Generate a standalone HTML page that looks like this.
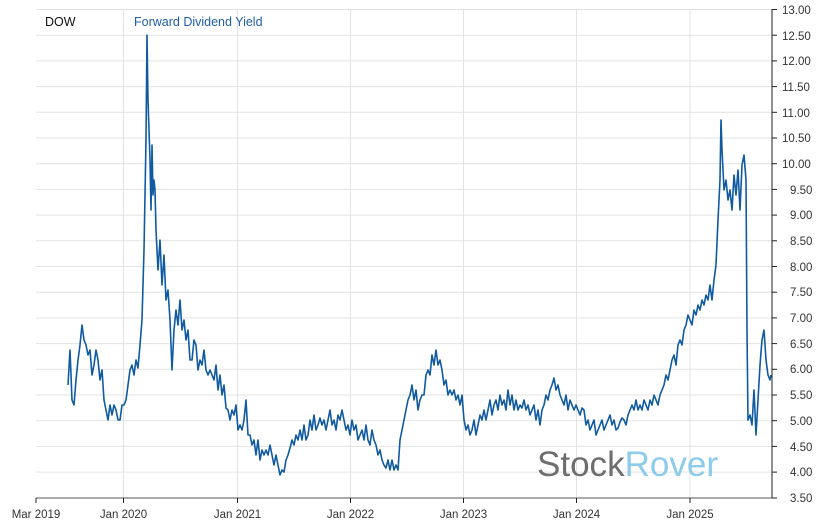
<!DOCTYPE html>
<html><head><meta charset="utf-8"><style>
html,body{margin:0;padding:0;background:#fff;}
svg{display:block;font-family:"Liberation Sans",Arial,sans-serif;}
</style></head><body>
<svg width="833" height="530" viewBox="0 0 833 530" xmlns="http://www.w3.org/2000/svg">
<g stroke="#e3e3e3" stroke-width="1">
<line x1="36" x2="772" y1="9.5" y2="9.5"/><line x1="36" x2="772" y1="35.2" y2="35.2"/><line x1="36" x2="772" y1="60.9" y2="60.9"/><line x1="36" x2="772" y1="86.6" y2="86.6"/><line x1="36" x2="772" y1="112.3" y2="112.3"/><line x1="36" x2="772" y1="138" y2="138"/><line x1="36" x2="772" y1="163.7" y2="163.7"/><line x1="36" x2="772" y1="189.4" y2="189.4"/><line x1="36" x2="772" y1="215.1" y2="215.1"/><line x1="36" x2="772" y1="240.8" y2="240.8"/><line x1="36" x2="772" y1="266.5" y2="266.5"/><line x1="36" x2="772" y1="292.2" y2="292.2"/><line x1="36" x2="772" y1="317.9" y2="317.9"/><line x1="36" x2="772" y1="343.6" y2="343.6"/><line x1="36" x2="772" y1="369.3" y2="369.3"/><line x1="36" x2="772" y1="395" y2="395"/><line x1="36" x2="772" y1="420.7" y2="420.7"/><line x1="36" x2="772" y1="446.4" y2="446.4"/><line x1="36" x2="772" y1="472.1" y2="472.1"/>
<line x1="123.5" x2="123.5" y1="9" y2="498"/><line x1="237.5" x2="237.5" y1="9" y2="498"/><line x1="350.5" x2="350.5" y1="9" y2="498"/><line x1="463.5" x2="463.5" y1="9" y2="498"/><line x1="576.5" x2="576.5" y1="9" y2="498"/><line x1="690" x2="690" y1="9" y2="498"/>
</g>
<text x="537" y="476" font-size="35" fill="#6d6d6d" textLength="181" lengthAdjust="spacingAndGlyphs">Stock<tspan fill="#8ccbeb">Rover</tspan></text>
<polyline fill="none" stroke="#0f5aa0" stroke-width="1.6" stroke-linejoin="round" points="68,385 70,350 72,400 74,405 76,380 78,360 80,345 82,325 84,340 86,345 88,355 90,350 92,375 94,365 96,350 98,360 100,380 102,370 104,400 106,410 108,420 110,405 112,415 114,405 116,410 118,420 120,420 122,405 124,405 126,400 128,385 130,370 132,365 134,375 136,360 138,368 140,345 142,320 144,250 146,140 147,35 148,100 149,130 150,160 151,210 152,145 153,195 154,180 155,190 156,230 158,270 160,240 162,285 164,255 166,300 168,290 170,320 172,370 174,330 176,310 178,325 180,300 182,330 184,320 186,340 188,330 190,360 192,360 194,340 196,345 198,370 200,360 202,365 204,350 206,370 208,375 210,370 212,375 214,380 216,365 218,390 220,375 222,395 224,385 226,408 228,410 230,420 232,410 234,415 236,405 238,430 240,425 242,430 244,420 246,400 248,435 250,435 252,445 254,440 256,455 258,440 260,460 262,450 264,455 266,450 268,455 270,445 272,455 274,465 276,455 278,465 280,475 282,470 284,472 286,460 288,455 290,448 292,440 294,445 296,435 298,440 300,430 302,440 304,425 306,440 308,435 310,420 312,430 314,415 316,430 318,425 320,418 322,425 324,420 326,430 328,420 330,410 332,425 334,420 336,430 338,415 340,420 342,410 344,420 346,430 348,425 350,435 352,420 354,430 356,425 358,440 360,435 362,430 364,440 366,425 368,440 370,445 372,430 374,440 376,445 378,455 380,450 382,460 384,465 386,468 388,460 390,470 392,460 394,470 396,465 398,470 400,440 402,430 404,420 406,410 408,400 410,395 412,385 414,400 416,390 418,410 420,400 422,395 424,395 426,375 428,370 430,375 432,355 434,365 436,350 438,365 440,360 442,370 444,385 446,380 448,395 450,390 452,395 454,390 456,400 458,395 460,405 462,395 464,420 466,430 468,425 470,435 472,430 474,420 476,435 478,425 480,415 482,420 484,410 486,420 488,410 490,400 492,415 494,405 496,400 498,410 500,395 502,405 504,400 506,410 508,390 510,405 512,395 514,410 516,400 518,410 520,405 522,408 524,400 526,410 528,405 530,415 532,410 534,405 536,420 538,410 540,425 542,410 544,405 546,395 548,400 550,390 552,385 554,378 556,390 558,385 560,395 562,400 564,405 566,395 568,410 570,400 572,405 574,410 576,405 578,410 580,415 582,408 584,410 586,425 588,420 590,430 592,425 594,420 596,435 598,430 600,425 602,420 604,430 606,425 608,420 610,415 612,425 614,420 616,430 618,428 620,422 622,418 624,420 626,425 628,415 630,410 632,405 634,410 636,400 638,410 640,405 642,410 644,400 646,405 648,410 650,400 652,405 654,395 656,400 658,405 660,395 662,390 664,385 666,375 668,380 670,370 672,360 674,355 676,365 678,345 680,340 682,345 684,330 686,325 688,315 690,320 692,325 694,310 696,315 698,305 700,310 702,300 704,305 706,295 708,300 710,285 712,300 714,280 716,265 718,220 720,180 721,120 722,150 724,190 726,180 728,200 730,190 732,210 734,175 736,195 738,170 740,210 742,165 744,155 746,180 747,330 748,420 750,415 752,425 754,390 756,435 758,400 760,365 762,340 764,330 766,360 768,375 770,380 771,375"/>
<line x1="36" x2="772" y1="498" y2="498" stroke="#555" stroke-width="1"/>
<line x1="772" x2="772" y1="9" y2="498" stroke="#222" stroke-width="1"/>
<g stroke="#222"><line x1="36" x2="36" y1="498" y2="503"/><line x1="123.5" x2="123.5" y1="498" y2="503"/><line x1="237.5" x2="237.5" y1="498" y2="503"/><line x1="350.5" x2="350.5" y1="498" y2="503"/><line x1="463.5" x2="463.5" y1="498" y2="503"/><line x1="576.5" x2="576.5" y1="498" y2="503"/><line x1="690" x2="690" y1="498" y2="503"/></g>
<g font-size="11.5" fill="#333" text-anchor="middle">
<text x="36" y="518">Mar 2019</text><text x="123.5" y="518">Jan 2020</text><text x="237.5" y="518">Jan 2021</text><text x="350.5" y="518">Jan 2022</text><text x="463.5" y="518">Jan 2023</text><text x="576.5" y="518">Jan 2024</text><text x="690" y="518">Jan 2025</text>
</g>
<g stroke="#222"><line x1="772" x2="777" y1="9.5" y2="9.5"/><line x1="772" x2="777" y1="35.2" y2="35.2"/><line x1="772" x2="777" y1="60.9" y2="60.9"/><line x1="772" x2="777" y1="86.6" y2="86.6"/><line x1="772" x2="777" y1="112.3" y2="112.3"/><line x1="772" x2="777" y1="138" y2="138"/><line x1="772" x2="777" y1="163.7" y2="163.7"/><line x1="772" x2="777" y1="189.4" y2="189.4"/><line x1="772" x2="777" y1="215.1" y2="215.1"/><line x1="772" x2="777" y1="240.8" y2="240.8"/><line x1="772" x2="777" y1="266.5" y2="266.5"/><line x1="772" x2="777" y1="292.2" y2="292.2"/><line x1="772" x2="777" y1="317.9" y2="317.9"/><line x1="772" x2="777" y1="343.6" y2="343.6"/><line x1="772" x2="777" y1="369.3" y2="369.3"/><line x1="772" x2="777" y1="395" y2="395"/><line x1="772" x2="777" y1="420.7" y2="420.7"/><line x1="772" x2="777" y1="446.4" y2="446.4"/><line x1="772" x2="777" y1="472.1" y2="472.1"/><line x1="772" x2="777" y1="498" y2="498"/></g>
<g font-size="11.5" fill="#333">
<text x="782" y="14">13.00</text><text x="782" y="40">12.50</text><text x="782" y="65">12.00</text><text x="782" y="91">11.50</text><text x="782" y="117">11.00</text><text x="782" y="142">10.50</text><text x="782" y="168">10.00</text><text x="790" y="194">9.50</text><text x="790" y="219">9.00</text><text x="790" y="245">8.50</text><text x="790" y="271">8.00</text><text x="790" y="296">7.50</text><text x="790" y="322">7.00</text><text x="790" y="348">6.50</text><text x="790" y="373">6.00</text><text x="790" y="399">5.50</text><text x="790" y="425">5.00</text><text x="790" y="451">4.50</text><text x="790" y="476">4.00</text><text x="790" y="502">3.50</text>
</g>
<text x="45" y="26" font-size="12.5" fill="#111">DOW</text>
<text x="134" y="26" font-size="12.5" fill="#1f5fa8">Forward Dividend Yield</text>
</svg>
</body></html>
